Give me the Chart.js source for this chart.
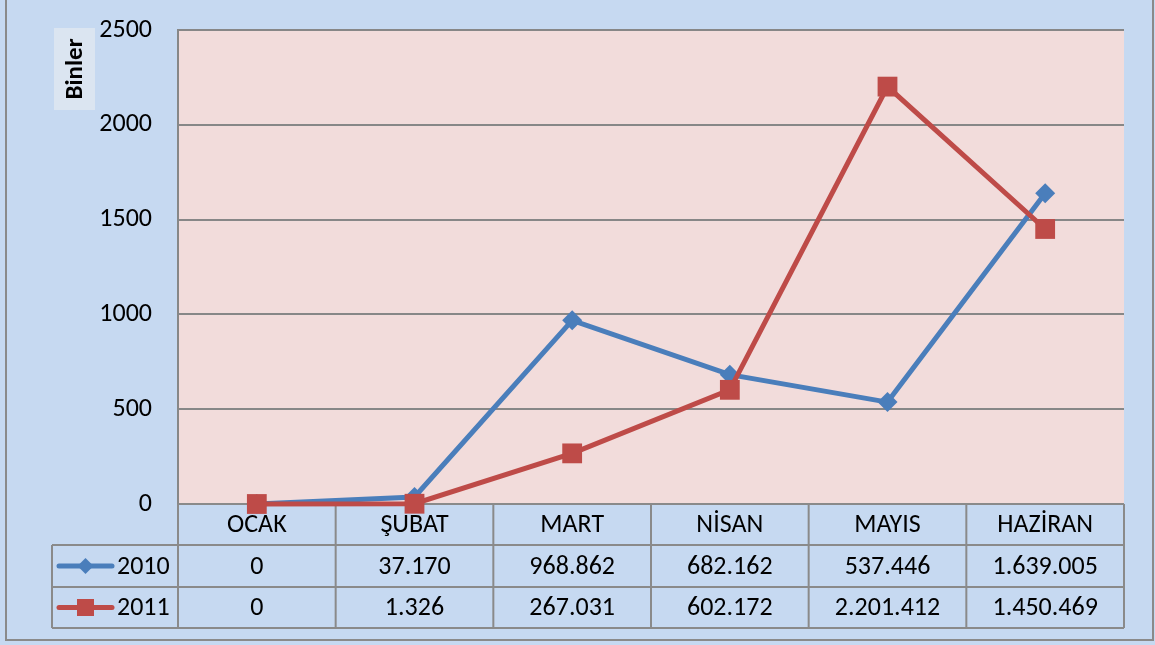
<!DOCTYPE html>
<html>
<head>
<meta charset="utf-8">
<script src="https://cdn.jsdelivr.net/npm/chart.js@4.4.1/dist/chart.umd.min.js"></script>
<style>
  html, body { margin: 0; padding: 0; background: #c6d9f1; }
  #wrap { width: 1155px; height: 645px; }
</style>
</head>
<body>
<div id="wrap"><canvas id="salesChart" width="1155" height="645"></canvas></div>
<script>
// aylar ve seriler (tablodaki değerler, grafikte binler cinsinden)
const months = ['OCAK', 'ŞUBAT', 'MART', 'NİSAN', 'MAYIS', 'HAZİRAN'];
const seriesNames = ['2010', '2011'];
const values2010 = [0, 37170, 968862, 682162, 537446, 1639005];
const values2011 = [0, 1326, 267031, 602172, 2201412, 1450469];
const yMin = 0, yMax = 2500, yStep = 500;
const yTitle = 'Binler';

const BLUE = '#4a7ebb';
const RED = '#be4b48';
const GRID = '#878787';
const FONT = "Calibri, Carlito, 'Open Sans', sans-serif";

function fmt(v) {
    return String(v).replace(/\B(?=(\d{3})+(?!\d))/g, '.');
}

const allSeries = [values2010, values2011];

// arka plan, çizim alanı ve dış çerçeve
const backgroundPlugin = {
    id: 'background',
    beforeDraw(chart) {
        const ctx = chart.ctx;
        const a = chart.chartArea;
        ctx.save();
        ctx.fillStyle = '#c6d9f1';
        ctx.fillRect(0, 0, chart.width, chart.height);
        ctx.fillStyle = '#f2dcdb';
        ctx.fillRect(a.left, a.top, a.right - a.left, a.bottom - a.top);
        ctx.strokeStyle = '#8a8a8a';
        ctx.lineWidth = 2;
        ctx.strokeRect(6, -10, 1147, 650);

        // eksen başlığı kutusu
        ctx.fillStyle = '#dbe5f1';
        ctx.fillRect(54, 28, 41, 82);
        ctx.translate(75, 69);
        ctx.rotate(-Math.PI / 2);
        ctx.fillStyle = '#000';
        ctx.font = 'bold 25px ' + FONT;
        ctx.textAlign = 'center';
        ctx.textBaseline = 'middle';
        ctx.fillText(yTitle, 0, 1);
        ctx.restore();
    }
};

// veri tablosu
const tablePlugin = {
    id: 'dataTable',
    beforeDatasetsDraw(chart) {
        const ctx = chart.ctx;
        const x = chart.scales.x;
        const a = chart.chartArea;
        const band = (a.right - a.left) / months.length;
        const rows = [a.bottom, a.bottom + 41, a.bottom + 83, a.bottom + 124];
        const legendLeft = 52;

        ctx.save();
        ctx.strokeStyle = '#8a8a8a';
        ctx.lineWidth = 2;
        ctx.beginPath();
        // yatay çizgiler
        ctx.moveTo(a.left, rows[0]); ctx.lineTo(a.right, rows[0]);
        for (let r = 1; r < rows.length; r++) {
            ctx.moveTo(legendLeft, rows[r]); ctx.lineTo(a.right, rows[r]);
        }
        // dikey çizgiler
        ctx.moveTo(legendLeft, rows[1]); ctx.lineTo(legendLeft, rows[3]);
        for (let i = 0; i <= months.length; i++) {
            const px = a.left + band * i;
            ctx.moveTo(px, rows[0]); ctx.lineTo(px, rows[3]);
        }
        ctx.stroke();

        ctx.fillStyle = '#000';
        ctx.font = '26px ' + FONT;
        ctx.textAlign = 'center';
        ctx.textBaseline = 'middle';
        months.forEach((m, i) => {
            const cx = x.getPixelForValue(i);
            ctx.fillText(m, cx, (rows[0] + rows[1]) / 2 + 1);
            allSeries.forEach((s, k) => {
                ctx.fillText(fmt(s[i]), cx, (rows[k + 1] + rows[k + 2]) / 2 + 1);
            });
        });

        // açıklama anahtarları
        chart.data.datasets.forEach((ds, k) => {
            const cy = (rows[k + 1] + rows[k + 2]) / 2;
            ctx.strokeStyle = ds.borderColor;
            ctx.lineWidth = 5;
            ctx.lineCap = 'round';
            ctx.beginPath();
            ctx.moveTo(59, cy); ctx.lineTo(112, cy);
            ctx.stroke();
            ctx.fillStyle = ds.borderColor;
            if (k === 0) {
                ctx.beginPath();
                ctx.moveTo(85.5, cy - 8); ctx.lineTo(93.5, cy);
                ctx.lineTo(85.5, cy + 8); ctx.lineTo(77.5, cy);
                ctx.closePath();
                ctx.fill();
            } else {
                ctx.fillRect(77, cy - 8.5, 17, 17);
            }
            ctx.fillStyle = '#000';
            ctx.textAlign = 'left';
            ctx.fillText(ds.label, 117, cy + 1);
        });
        ctx.restore();
    }
};

new Chart(document.getElementById('salesChart'), {
    type: 'line',
    data: {
        labels: months,
        datasets: [
            {
                label: seriesNames[0],
                data: values2010.map(v => v / 1000),
                borderColor: BLUE,
                backgroundColor: BLUE,
                borderWidth: 5,
                pointStyle: 'rectRot',
                pointRadius: 10,
                pointBorderWidth: 0,
                tension: 0,
                clip: false,
                order: 2
            },
            {
                label: seriesNames[1],
                data: values2011.map(v => v / 1000),
                borderColor: RED,
                backgroundColor: RED,
                borderWidth: 5,
                pointStyle: 'rect',
                pointRadius: 14,
                pointBorderWidth: 0,
                tension: 0,
                clip: false,
                order: 1
            }
        ]
    },
    options: {
        responsive: false,
        animation: false,
        devicePixelRatio: 1,
        layout: {
            padding: { left: 0, top: 30, right: 31, bottom: 141 }
        },
        plugins: {
            legend: { display: false },
            tooltip: { enabled: false }
        },
        scales: {
            x: {
                display: false,
                offset: true
            },
            y: {
                min: yMin,
                max: yMax,
                ticks: {
                    stepSize: yStep,
                    padding: 26,
                    color: '#000',
                    font: { family: FONT, size: 26 },
                    callback: function(value) {
                        return String(value);
                    }
                },
                grid: {
                    color: GRID,
                    lineWidth: 2,
                    drawTicks: false
                },
                border: {
                    display: true,
                    color: GRID,
                    width: 2
                },
                afterFit: function(scale) {
                    scale.width = 178;
                    scale.paddingTop = 0;
                    scale.paddingBottom = 0;
                }
            }
        }
    },
    plugins: [backgroundPlugin, tablePlugin]
});
</script>
</body>
</html>
